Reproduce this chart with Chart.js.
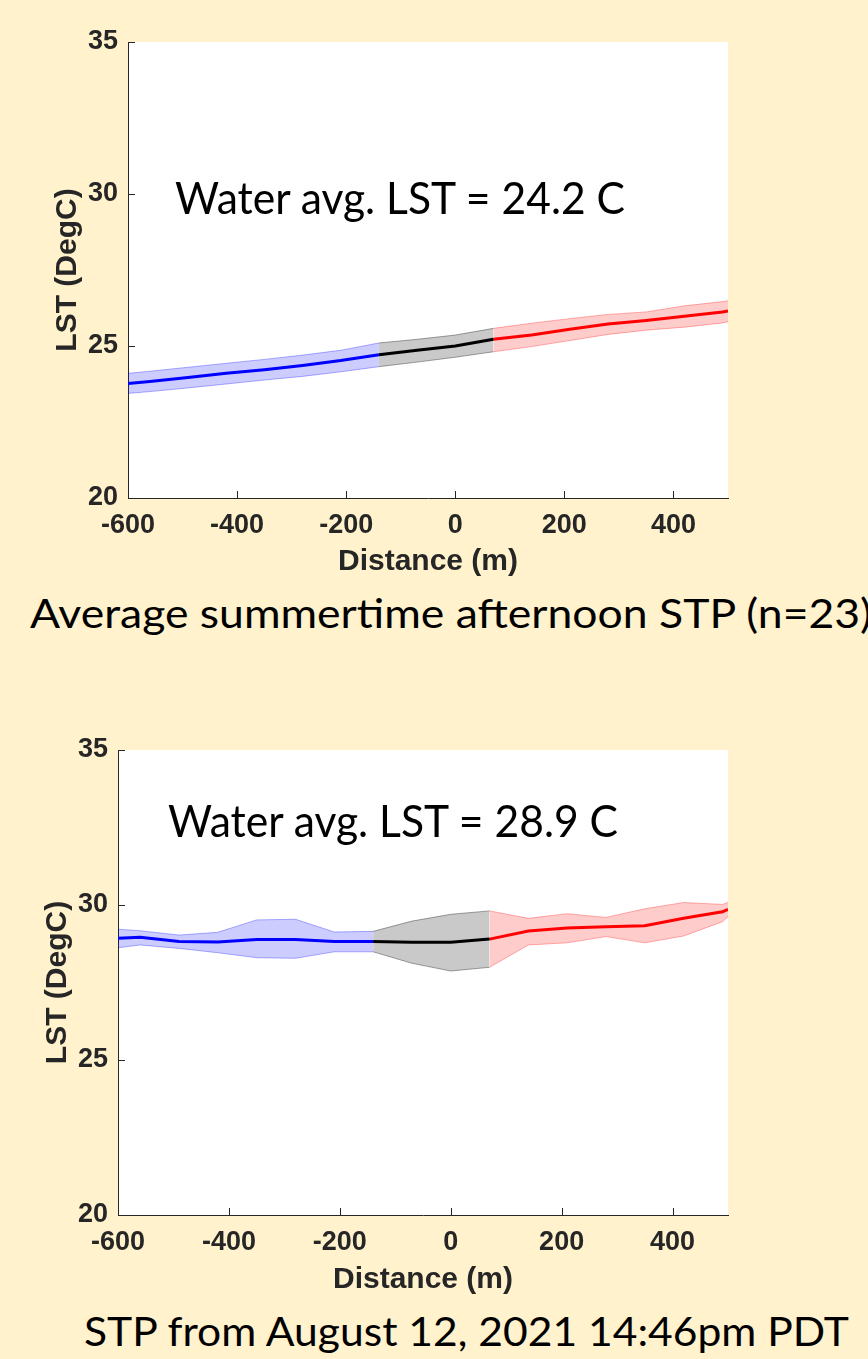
<!DOCTYPE html>
<html>
<head>
<meta charset="utf-8">
<title>STP</title>
<script src="https://cdn.jsdelivr.net/npm/chart.js@4.4.0/dist/chart.umd.min.js"></script>
<style>
  html, body { margin: 0; padding: 0; background: #FFF2CC; }
  body { width: 868px; height: 1359px; position: relative; overflow: hidden; font-family: Lato, "Open Sans", sans-serif; }
  .box { position: absolute; left: 0; width: 868px; }
  .note { position: absolute; white-space: nowrap; color: #000; transform-origin: 0 0; line-height: 1; }
</style>
</head>
<body>
<div class="box" style="top:0;height:580px"><canvas id="chartAvg"></canvas></div>
<div class="box" style="top:700px;height:598px"><canvas id="chartAug"></canvas></div>
<div class="note" id="noteAvg">Water avg. LST = 24.2 C</div>
<div class="note" id="noteAug">Water avg. LST = 28.9 C</div>
<div class="note" id="capAvg">Average summertime afternoon STP (n=23)</div>
<div class="note" id="capAug">STP from August 12, 2021 14:46pm PDT</div>
<script>
// distance along the profile (m)
const distance = [-600, -560, -490, -420, -350, -280, -210, -140, -70, 0, 70, 140, 210, 280, 350, 420, 490, 500];

// average summertime afternoon (n=23)
const avgMean  = [23.77, 23.83, 23.96, 24.10, 24.22, 24.36, 24.52, 24.71, 24.86, 25.00, 25.22, 25.36, 25.55, 25.72, 25.84, 25.98, 26.12, 26.15];
const avgUpper = [24.10, 24.17, 24.30, 24.43, 24.56, 24.70, 24.86, 25.10, 25.22, 25.36, 25.58, 25.75, 25.90, 26.04, 26.12, 26.32, 26.46, 26.49];
const avgLower = [23.44, 23.50, 23.62, 23.75, 23.88, 24.00, 24.15, 24.32, 24.47, 24.63, 24.81, 24.98, 25.18, 25.38, 25.52, 25.62, 25.76, 25.80];

// August 12, 2021 14:46
const augMean  = [28.93, 28.96, 28.82, 28.81, 28.89, 28.89, 28.82, 28.82, 28.80, 28.80, 28.90, 29.16, 29.26, 29.30, 29.33, 29.57, 29.78, 29.86];
const augUpper = [29.22, 29.17, 29.03, 29.12, 29.52, 29.54, 29.13, 29.15, 29.48, 29.70, 29.81, 29.57, 29.72, 29.60, 29.88, 30.08, 30.02, 30.08];
const augLower = [28.62, 28.71, 28.60, 28.46, 28.30, 28.28, 28.49, 28.49, 28.12, 27.87, 27.99, 28.71, 28.78, 28.98, 28.78, 29.00, 29.46, 29.62];

const xTicks = [-600, -400, -200, 0, 200, 400];
const yTicks = [20, 25, 30, 35];

// land / water / land parts of the profile (index ranges into distance)
const segments = [
  { from: 0, to: 8, line: "#0000FF", band: "rgba(0,0,255,0.2)", edge: "rgba(0,0,255,0.3)" },
  { from: 7, to: 11, line: "#000000", band: "rgba(0,0,0,0.21)", edge: "rgba(0,0,0,0.35)" },
  { from: 10, to: 18, line: "#FF0000", band: "rgba(255,0,0,0.2)", edge: "rgba(255,0,0,0.3)" }
];

const axisColor = "#262626";

function pts(ys, a, b) {
  return distance.slice(a, b).map((x, i) => ({ x: x, y: ys[a + i] }));
}

// plot area in white + MATLAB style inward ticks
const axesLook = {
  id: "axesLook",
  beforeDraw(chart) {
    const a = chart.chartArea, ctx = chart.ctx;
    ctx.save();
    ctx.fillStyle = "#ffffff";
    ctx.fillRect(a.left, a.top, a.right - a.left, a.bottom - a.top);
    ctx.restore();
  },
  afterDraw(chart) {
    const a = chart.chartArea, ctx = chart.ctx;
    const sx = chart.scales.x, sy = chart.scales.y;
    ctx.save();
    ctx.strokeStyle = axisColor;
    ctx.lineWidth = 1;
    ctx.beginPath();
    xTicks.forEach((v) => {
      const px = Math.round(sx.getPixelForValue(v)) + 0.5;
      ctx.moveTo(px, a.bottom);
      ctx.lineTo(px, a.bottom - 7);
    });
    yTicks.forEach((v) => {
      const py = Math.round(sy.getPixelForValue(v)) + 0.5;
      ctx.moveTo(a.left, py);
      ctx.lineTo(a.left + 7, py);
    });
    ctx.stroke();
    ctx.restore();
  }
};

function makeChart(id, mean, upper, lower, padLeft, padTop, xAxisHeight) {
  const datasets = [];
  segments.forEach((s) => {
    const lowIndex = datasets.length;
    datasets.push({
      data: pts(lower, s.from, s.to),
      borderColor: s.edge, borderWidth: 1, pointRadius: 0, fill: false, order: 2
    });
    datasets.push({
      data: pts(upper, s.from, s.to),
      borderColor: s.edge, borderWidth: 1, pointRadius: 0,
      backgroundColor: s.band, fill: lowIndex, order: 2
    });
  });
  segments.forEach((s) => {
    datasets.push({
      data: pts(mean, s.from, s.to),
      borderColor: s.line, borderWidth: 3, pointRadius: 0, fill: false, order: 0
    });
  });

  const tickFont = { family: "'Liberation Sans', Arial, sans-serif", size: 27, weight: "bold" };
  const titleFont = { family: "'Liberation Sans', Arial, sans-serif", size: 30, weight: "bold" };

  return new Chart(document.getElementById(id), {
    type: "line",
    data: { datasets: datasets },
    options: {
      responsive: true,
      maintainAspectRatio: false,
      animation: false,
      layout: { padding: { left: padLeft, right: 140, top: padTop, bottom: 0 } },
      plugins: { legend: { display: false }, tooltip: { enabled: false } },
      elements: { line: { tension: 0 } },
      scales: {
        x: {
          type: "linear", min: -600, max: 500,
          afterFit: (scale) => { scale.height = xAxisHeight; },
          afterBuildTicks: (scale) => { scale.ticks = xTicks.map((v) => ({ value: v })); },
          grid: { display: true, drawOnChartArea: false, drawTicks: false },
          border: { color: axisColor, width: 1 },
          ticks: { color: axisColor, font: tickFont, padding: 11, maxRotation: 0 },
          title: { display: true, text: "Distance (m)", color: axisColor, font: titleFont, padding: 0 }
        },
        y: {
          min: 20, max: 35,
          afterFit: (scale) => { scale.width = 78; },
          afterBuildTicks: (scale) => { scale.ticks = yTicks.map((v) => ({ value: v })); },
          grid: { display: true, drawOnChartArea: false, drawTicks: false },
          border: { color: axisColor, width: 1 },
          ticks: { color: axisColor, font: tickFont, padding: 10 },
          title: { display: true, text: "LST (DegC)", color: axisColor, font: titleFont, padding: 0 }
        }
      }
    },
    plugins: [axesLook]
  });
}

makeChart("chartAvg", avgMean, avgUpper, avgLower, 50, 42, 82);
makeChart("chartAug", augMean, augUpper, augLower, 40, 50, 83);

// slide texts, stretched to the widths seen on the slide
function placeText(id, left, right, capMid, fontPx) {
  const el = document.getElementById(id);
  el.style.transform = "none";
  el.style.fontSize = fontPx + "px";
  el.style.left = left + "px";
  el.style.top = (capMid - 0.529 * fontPx) + "px";
  const w = el.getBoundingClientRect().width;
  el.style.transform = "scaleX(" + ((right - left) / w) + ")";
}

function placeAll() {
  placeText("noteAvg", 175, 625, 198, 44);
  placeText("noteAug", 168, 618, 821, 44);
  placeText("capAvg", 30, 872, 614, 40);
  placeText("capAug", 84, 849, 1332, 40);
}
placeAll();
if (document.fonts) document.fonts.ready.then(placeAll);
</script>
</body>
</html>
